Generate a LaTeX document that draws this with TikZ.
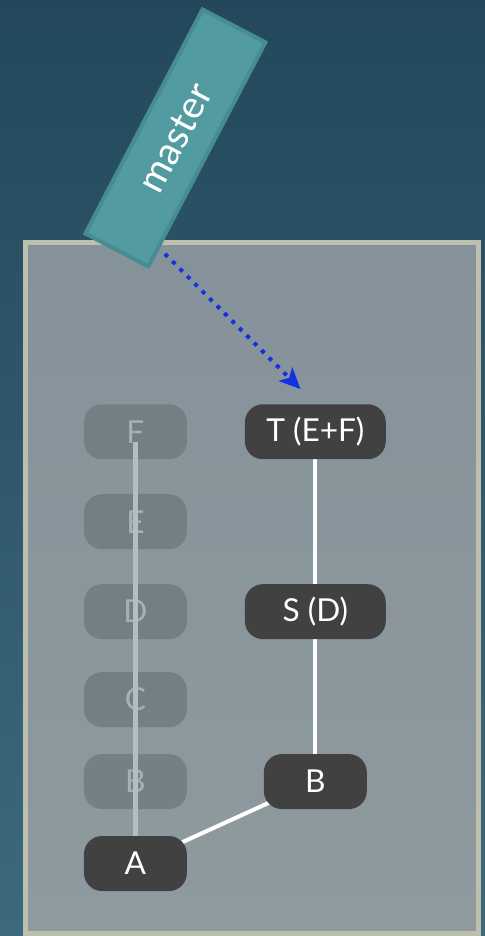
\documentclass[tikz,border=0pt]{standalone}
\usepackage{fontspec}
\setmainfont{Lato}
\usetikzlibrary{arrows.meta,positioning}
\definecolor{bgtop}{HTML}{23485C}
\definecolor{bgbottom}{HTML}{3D697C}
\definecolor{paneltop}{HTML}{85929A}
\definecolor{panelbottom}{HTML}{8E9A9E}
\definecolor{panelrim}{HTML}{BDBFAE}
\definecolor{branchfill}{HTML}{529BA0}
\definecolor{branchrim}{HTML}{478C93}
\definecolor{commitfill}{HTML}{414141}
\definecolor{ghostfill}{HTML}{6F7A7E}
\definecolor{ghosttext}{HTML}{A7B1B4}
\definecolor{ghostline}{HTML}{B4BEC1}
\definecolor{pointer}{HTML}{1131E2}
\pgfdeclarelayer{bg}
\pgfdeclarelayer{ghosts}
\pgfdeclarelayer{edges}
\pgfsetlayers{bg,ghosts,edges,main}
\tikzset{
    commit/.style={fill=commitfill, text=white, rounded corners=0.36cm,
        minimum width=2.06cm, minimum height=1.1cm, inner sep=0pt,
        font=\fontsize{18}{21}\selectfont},
    squash/.style={commit, minimum width=2.82cm},
    ghost/.style={commit, fill=ghostfill, fill opacity=0.8, text opacity=1, text=ghosttext},
    link/.style={white, line width=0.08cm},
}
\begin{document}
\begin{tikzpicture}[x=0.02cm, y=0.02cm]
    % 背景
    \begin{pgfonlayer}{bg}
        \shade[top color=bgtop, bottom color=bgbottom] (0, 0) rectangle (485, 936);
        \draw[panelrim, line width=0.1cm, top color=paneltop, bottom color=panelbottom]
            (25.5, 2) rectangle (478.5, 693.5);
    \end{pgfonlayer}

    % 分支标签
    \node[draw=branchrim, line width=0.08cm, fill=branchfill, rotate=62.4,
        minimum width=5.06cm, minimum height=1.42cm, text=white,
        font=\fontsize{22}{26}\selectfont] (master) at (175.5, 798) {master};

    % 被压缩的提交（淡化）
    \begin{pgfonlayer}{ghosts}
        \node[ghost] (F) at (135.5, 504) {F};
        \node[ghost] (E) at (135.5, 414) {E};
        \node[ghost] (D) at (135.5, 324) {D};
        \node[ghost] (C) at (135.5, 236) {C};
        \node[ghost] (Bold) at (135.5, 154) {B};
    \end{pgfonlayer}

    % 新的提交
    \node[commit] (A) at (135.5, 72) {A};
    \node[commit] (B) at (315.5, 154) {B};
    \node[squash] (S) at (315.5, 324) {S (D)};
    \node[squash] (T) at (315.5, 504) {T (E+F)};

    % 连线
    \begin{pgfonlayer}{edges}
        \draw[ghostline, line width=0.1cm, shorten <=0.2cm] (F.center) -- (A.center);
        \draw[link] (A.center) -- (B.center);
        \draw[link] (B.center) -- (S.center);
        \draw[link] (S.center) -- (T.center);
    \end{pgfonlayer}

    % 指针
    \coordinate (src) at (165, 682);
    \draw[pointer, line width=0.08cm, dash pattern=on 0.08cm off 0.13cm,
        -{Stealth[length=0.42cm, width=0.38cm, inset=0.1cm]}, shorten >=0.42cm]
        (src) -- (T.north);
\end{tikzpicture}
\end{document}
